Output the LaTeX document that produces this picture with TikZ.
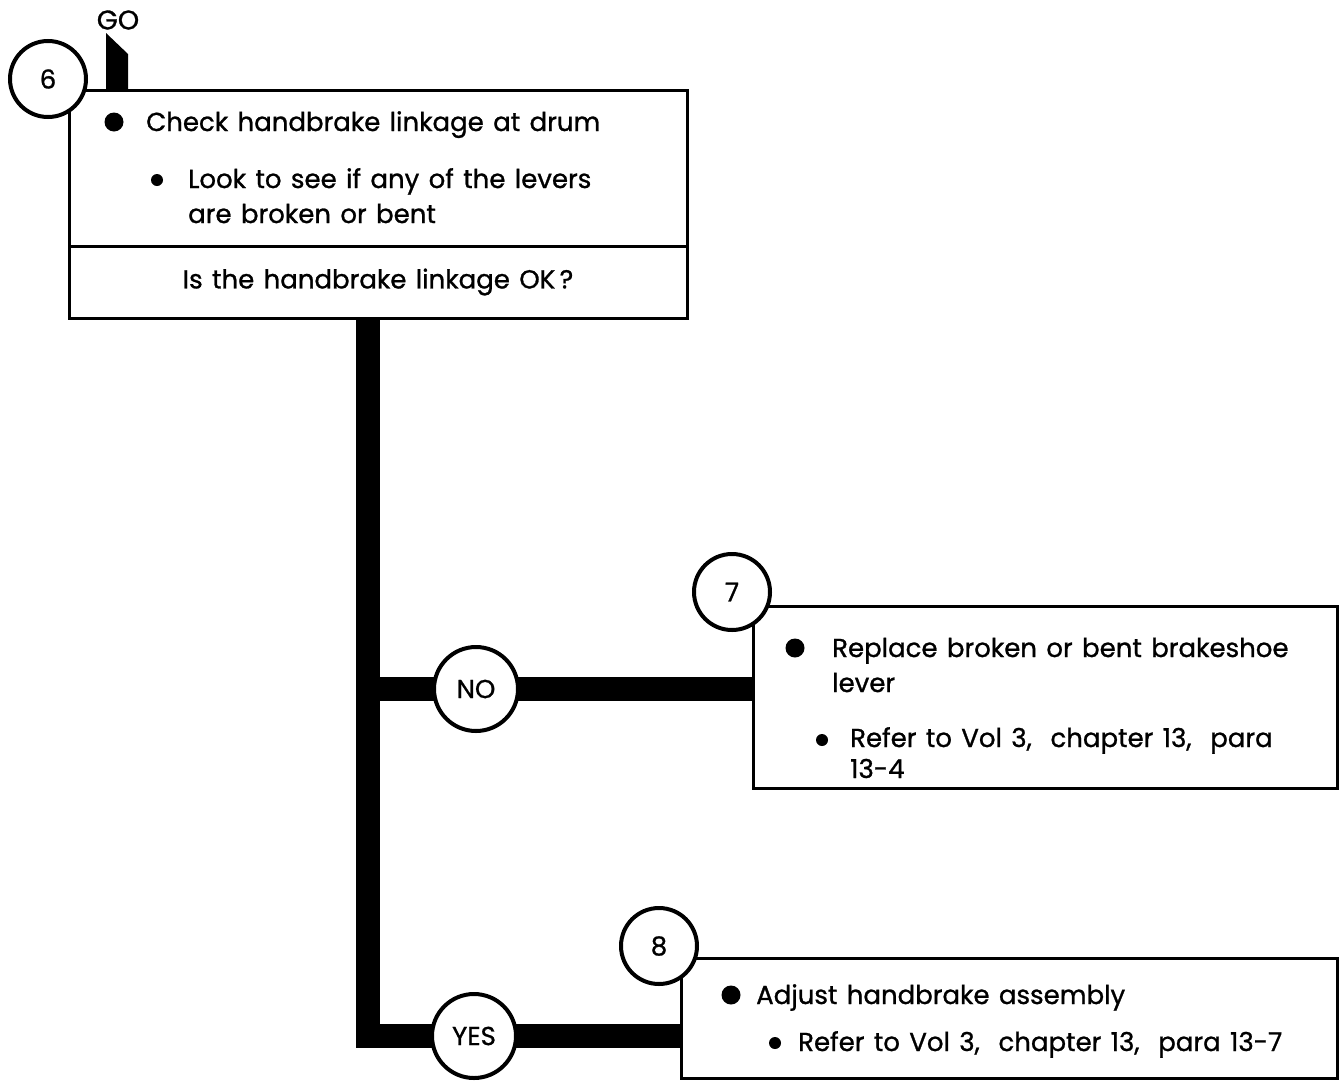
\documentclass[tikz,border=0pt]{standalone}
\usepackage{fontspec}
\setmainfont{Poppins}[WordSpace=1.35, FakeBold=1]
\usetikzlibrary{positioning,backgrounds}

\begin{document}
\begin{tikzpicture}[x=1pt, y=-1pt,
  font=\fontsize{26}{30}\selectfont,
  box/.style={draw, line width=3pt, anchor=north west, outer sep=0pt, inner sep=0pt},
  stepnum/.style={draw, circle, line width=4pt, fill=white, minimum size=76pt, inner sep=0pt},
  answer/.style={draw, circle, line width=4pt, fill=white, minimum size=84pt, inner sep=0pt},
  bigdot/.style={circle, fill=black, minimum size=19pt, inner sep=0pt},
  smalldot/.style={circle, fill=black, minimum size=12pt, inner sep=0pt},
  txt/.style={anchor=base west, inner sep=0pt},
  bar/.style={line width=24pt, line join=miter},
]
\useasboundingbox (0,0) rectangle (1341,1082);

% Step 6
\node[box, minimum width=618pt, minimum height=156pt] (b6) at (69,90) {};
\node[box, minimum width=618pt, minimum height=72pt] (q6) at (69,246) {};
\node[stepnum] (s6) at (48,79) {6};
\fill (106,90) -- (106,33) -- (128,54) -- (128,90) -- cycle;
\node[font=\fontsize{27}{30}\selectfont] (go) at (118,20) {GO};
\node[bigdot] (d6a) at (114,122) {};
\node[txt] (t6a) at (146,131) {Check handbrake linkage at drum};
\node[smalldot] (d6b) at (157,180) {};
\node[txt] (t6b) at (188,188) {Look to see if any of the levers};
\node[txt] (t6c) at (188,223) {are broken or bent};
\node (t6q) at (q6.center) {Is the handbrake linkage OK\,?};

% Step 7
\node[box, minimum width=584pt, minimum height=182pt] (b7) at (753,606) {};
\node[stepnum] (s7) at (732,592) {7};
\node[bigdot] (d7a) at (795,648) {};
\node[txt] (t7a) at (832,657) {Replace broken or bent brakeshoe};
\node[txt] (t7b) at (832,692) {lever};
\node[smalldot] (d7b) at (822,740) {};
\node[txt] (t7c) at (850,747) {Refer to Vol 3, \ chapter 13, \ para};
\node[txt] (t7d) at (850,778) {13-4};

% Step 8
\node[box, minimum width=656pt, minimum height=120pt] (b8) at (681,958) {};
\node[stepnum] (s8) at (659,946) {8};
\node[bigdot] (d8a) at (731,995) {};
\node[txt] (t8a) at (756,1004) {Adjust handbrake assembly};
\node[smalldot] (d8b) at (775,1043) {};
\node[txt] (t8b) at (798,1051) {Refer to Vol 3, \ chapter 13, \ para 13-7};

% Decision
\coordinate (trunk) at (368,318);
\node[answer] (no) at (476,689) {NO};
\node[answer] (yes) at (474,1036) {YES};
\begin{pgfonlayer}{background}
\fill[white] (0,0) rectangle (1341,1082);
\draw[bar] (trunk) |- (yes.center) -- (yes -| b8.west);
\draw[bar] (trunk |- no) -- (no -| b7.west);
\end{pgfonlayer}
\end{tikzpicture}
\end{document}
